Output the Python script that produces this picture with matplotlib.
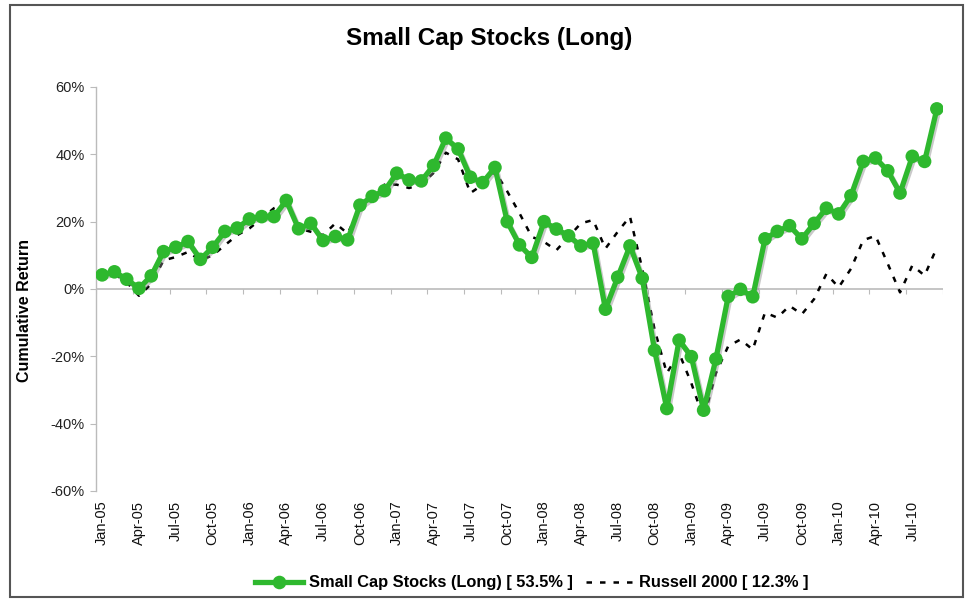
import matplotlib
matplotlib.use("Agg")
import matplotlib.pyplot as plt
import matplotlib.patheffects as pe
import matplotlib.transforms as mtrans
from matplotlib.patches import Rectangle
from matplotlib.lines import Line2D
import pandas as pd

plt.rcParams['font.family'] = ['Liberation Sans', 'DejaVu Sans']

months = pd.date_range("2005-01-01", periods=69, freq="MS")
month_labels = [d.strftime("%b-%y") for d in months]

small_cap = [4.2, 5.1, 2.9, 0.2, 3.9, 11.1, 12.4, 14.1, 8.8, 12.4,
             17.1, 18.1, 20.8, 21.5, 21.5, 26.3, 17.9, 19.5, 14.4, 15.6,
             14.6, 24.9, 27.5, 29.2, 34.4, 32.4, 32.1, 36.7, 44.8, 41.6,
             33.2, 31.6, 36.1, 20.0, 13.1, 9.4, 20.0, 17.8, 15.8, 12.8,
             13.6, -6.0, 3.5, 12.8, 3.2, -18.2, -35.5, -15.2, -20.1, -36.0,
             -20.8, -2.2, -0.1, -2.3, 14.9, 17.1, 18.8, 14.9, 19.5, 24.0,
             22.3, 27.7, 37.9, 38.9, 35.1, 28.5, 39.4, 37.9, 53.5]

russell = [4.0, 4.5, 2.0, -2.0, 1.5, 8.5, 9.5, 11.0, 8.5, 10.0,
           13.0, 16.0, 18.0, 21.0, 24.0, 25.5, 18.0, 17.0, 16.0, 19.5,
           16.5, 24.0, 27.0, 31.0, 31.0, 30.0, 31.0, 34.5, 40.5, 38.5,
           28.5, 31.0, 35.0, 29.0, 22.5, 15.5, 14.0, 11.5, 15.5, 19.5,
           20.5, 12.0, 17.0, 21.5, 6.0, -12.0, -25.0, -19.0, -28.0, -38.5,
           -25.0, -17.0, -15.0, -18.0, -7.0, -8.5, -5.0, -7.5, -3.0, 4.5,
           0.5, 6.0, 14.5, 15.8, 7.5, -1.0, 7.0, 4.0, 12.3]

title = "Small Cap Stocks (Long)"
y_label = "Cumulative Return"
y_ticks = [-60, -40, -20, 0, 20, 40, 60]
label1 = "Small Cap Stocks (Long) [ 53.5% ]"
label2 = "Russell 2000 [ 12.3% ]"

W, H = 969, 599
fig = plt.figure(figsize=(W / 100, H / 100), dpi=100)
ax = fig.add_axes([96 / W, 1 - 491 / H, (943 - 96) / W, (491 - 87) / H])

x = list(range(len(small_cap)))
green = "#2eb82e"
axis_gray = "#bbbbbb"

ax.plot(x, russell, color="black", lw=1.8, ls=(0, (2.2, 3.2)), zorder=2)
ax.plot(x, small_cap, color=green, lw=3.8, marker="o", markersize=9.8,
        markeredgewidth=0, zorder=3,
        path_effects=[pe.SimpleLineShadow(offset=(1.2, -1.5), shadow_color="#888888", alpha=0.45),
                      pe.Normal()])

ax.set_xlim(-0.5, len(x) - 0.5)
ax.set_ylim(-60, 60)
ax.set_yticks(y_ticks)
ax.set_yticklabels([f"{v}%" for v in y_ticks], fontsize=10.5, color="#222222")
ax.tick_params(axis="y", length=4, width=0.8, color=axis_gray, pad=4)

# horizontal axis line at 0 with tick marks at every 3rd category boundary
ax.axhline(0, color=axis_gray, lw=1.2, zorder=1)
trans = mtrans.blended_transform_factory(ax.transData, ax.transAxes)
bounds = [i - 0.5 for i in range(0, len(x) + 1, 3)]
zero_ax = 0.5
ax.vlines(bounds, zero_ax - 0.012, zero_ax, transform=trans, color=axis_gray, lw=0.8, zorder=1)

lab_pos = list(range(0, len(x) - 2, 3))
ax.set_xticks(lab_pos)
ax.set_xticklabels([month_labels[i] for i in lab_pos], rotation=90,
                   fontsize=10.5, color="#111111")
ax.tick_params(axis="x", length=0, pad=7)

for s in ["top", "right", "bottom"]:
    ax.spines[s].set_visible(False)
ax.spines["left"].set_color(axis_gray)
ax.spines["left"].set_linewidth(1.0)

ax.set_ylabel(y_label, fontsize=11.5, fontweight="bold")
ax.yaxis.set_label_coords((32 - 96) / 847, (491 - 311) / 404)

fig.text(489 / W, 1 - 38 / H, title, ha="center", va="center", fontsize=17.5, fontweight="bold")

h1 = Line2D([], [], color=green, lw=3.8, marker="o", markersize=9.8, markeredgewidth=0)
h2 = Line2D([], [], color="black", lw=1.8, ls=(0, (2.2, 3.2)))
fig.legend([h1, h2], [label1, label2], loc="center", bbox_to_anchor=(532 / W, 1 - 583 / H),
           ncol=2, frameon=False, prop={"weight": "bold", "size": 11.8},
           handlelength=2.9, columnspacing=0.8, handletextpad=0.35)

fig.patches.append(Rectangle((10 / W, 1 - 597 / H), (963 - 10) / W, (597 - 5) / H,
                             transform=fig.transFigure, fill=False, edgecolor="#555555", lw=1.5))

fig.savefig("out.png", dpi=100)
